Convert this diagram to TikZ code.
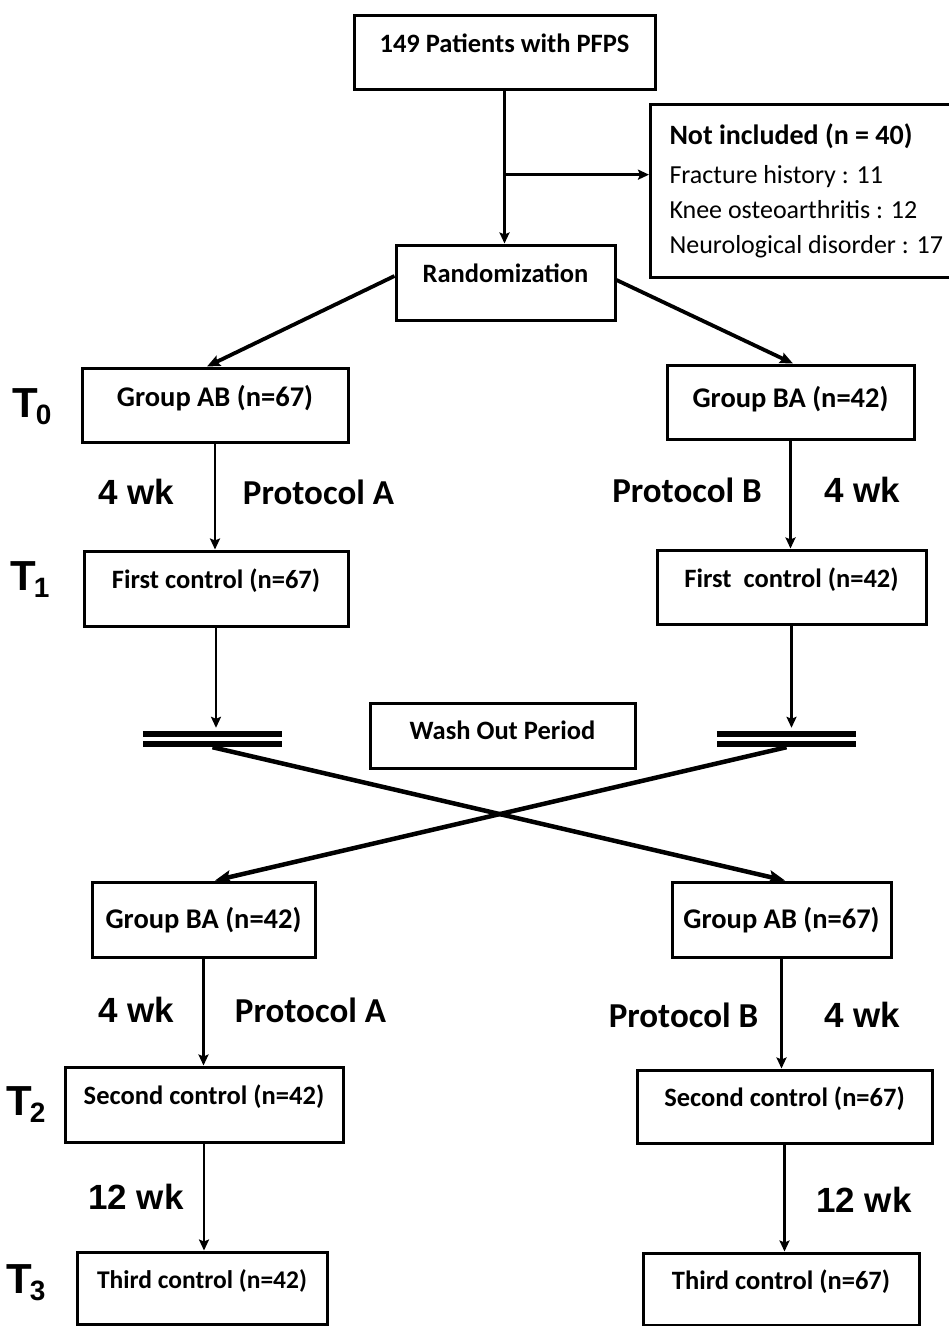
\documentclass[tikz,border=0pt]{standalone}
\usepackage{fontspec}
\setmainfont{Carlito}
\newfontfamily\labfont{Liberation Sans}
\usetikzlibrary{positioning, arrows.meta, calc}

% time point label, T with a lowered index
\newcommand{\tlab}[1]{T\kern-2pt\raisebox{-7pt}{\fontsize{28}{28}\selectfont #1}}

\begin{document}
\begin{tikzpicture}[x=1pt, y=-1pt, >={Stealth[length=11pt, width=10pt, inset=2pt]},
    box/.style={draw, line width=3pt, inner sep=0pt, text height=12pt, text depth=12pt,
        font=\bfseries\fontsize{26.5}{30}\selectfont},
    grp/.style={box, font=\bfseries\fontsize{28.5}{30}\selectfont},
    midgrp/.style={grp, text height=17pt, text depth=0pt},
    excl/.style={draw, line width=3pt, anchor=north west, text width=300pt, inner xsep=19pt,
        minimum height=173pt, align=left, font=\fontsize{26}{35}\selectfont},
    link/.style={->, line width=2.5pt},
    diag/.style={-{Stealth[length=13pt, width=11pt, inset=2pt]}, line width=3.8pt},
    cross/.style={-{Stealth[length=16pt, width=13pt, inset=3pt]}, line width=4.5pt},
    bar/.style={minimum width=139pt, minimum height=16pt, inner sep=0pt},
    dbl/.style={line width=5.5pt, double=white, double distance=4.5pt},
    wk/.style={font=\labfont\bfseries\fontsize{35}{35}\selectfont},
    proto/.style={font=\bfseries\fontsize{35}{35}\selectfont},
    tl/.style={anchor=base west, inner sep=0pt, font=\labfont\bfseries\fontsize{42}{42}\selectfont}]
    \useasboundingbox (0,0) rectangle (949,1326);
    \fill[white] (0,0) rectangle (949,1326);

    % enrolment
    \node[box, minimum width=301pt, minimum height=74pt] (pat) at (504.5,52) {149 Patients with PFPS};
    \node[box, minimum width=219pt, minimum height=75pt] (rand) at (505.5,282.5) {Randomization};
    \node[excl] (excl) at (649,103) {\spaceskip=0pt\xspaceskip=0pt
        {\fontsize{28}{35}\selectfont\bfseries Not included (n = 40)}\\[4pt]
        Fracture history : 11\\ Knee osteoarthritis : 12\\ Neurological disorder : 17};
    \coordinate (split) at ($(pat.south)!0.55!(rand.north)$);

    % first period
    \node[grp, text height=14pt, text depth=11pt, minimum width=266pt, minimum height=74pt] (gab) at (215,405) {Group AB (n=67)};
    \node[grp, text height=17pt, text depth=6pt, minimum width=247pt, minimum height=74pt] (gba) at (790.5,402) {Group BA (n=42)};
    \node[box, minimum width=264pt, minimum height=75pt] (fca) at (216,588.5) {First control (n=67)};
    \node[box, minimum width=269pt, minimum height=74pt] (fcb) at (791.5,587) {First\ \ control (n=42)};

    % wash out
    \node[bar] (barA) at (212.5,739) {};
    \node[bar] (barB) at (786.5,739) {};
    \node[box, text height=16pt, text depth=8pt, minimum width=265pt, minimum height=65pt] (wash) at (502.5,735.5) {Wash Out Period};

    % second period
    \node[midgrp, minimum width=223pt, minimum height=75pt] (gba2) at (203.5,919.5) {Group BA (n=42)};
    \node[midgrp, minimum width=219pt, minimum height=75pt] (gab2) at (781.5,919.5) {Group AB (n=67)};
    \node[box, minimum width=278pt, minimum height=75pt] (sca) at (204,1104.5) {Second control (n=42)};
    \node[box, minimum width=295pt, minimum height=73pt] (scb) at (784.5,1106.5) {Second control (n=67)};
    \node[box, font=\bfseries\fontsize{25.5}{30}\selectfont, minimum width=250pt, minimum height=72pt] (tca) at (202,1288) {Third control (n=42)};
    \node[box, minimum width=276pt, minimum height=72pt] (tcb) at (781,1289) {Third control (n=67)};

    % connectors
    \draw[link, line width=3pt] (pat.south) -- (pat.south |- rand.north);
    \draw[link, line width=3pt] (split) -- (split -| excl.west);
    \draw[diag] ([yshift=6.5pt]rand.west) -- ([xshift=-8pt]gab.north);
    \draw[diag] ([yshift=2.5pt]rand.east) -- ([xshift=2.5pt]gba.north);
    \draw[link] (gab.south) -- (gab.south |- fca.north);
    \draw[link] (gba.south) -- (gba.south |- fcb.north);
    \draw[link, shorten >=3pt] (fca.south) -- (fca.south |- barA.north);
    \draw[link, shorten >=3pt] (fcb.south) -- (fcb.south |- barB.north);
    \draw[dbl] (barA.west) -- (barA.east);
    \draw[dbl] (barB.west) -- (barB.east);
    \draw[cross] (barA.south) -- ([xshift=3.5pt]gab2.north);
    \draw[cross] (barB.south) -- ([xshift=11.5pt]gba2.north);
    \draw[link] (gba2.south) -- (gba2.south |- sca.north);
    \draw[link] (sca.south) -- (sca.south |- tca.north);
    \draw[link] (gab2.south) -- (gab2.south |- scb.north);
    \draw[link] (scb.south) -- (scb.south |- tcb.north);

    % durations and protocols
    \node[wk] (wkA) at (136,492) {4 wk};
    \node[proto] (prA) at (318.5,492) {Protocol A};
    \node[proto] (prB) at (687,490) {Protocol B};
    \node[wk] (wkB) at (862.5,490) {4 wk};
    \node[wk] (wkC) at (136,1010) {4 wk};
    \node[proto] (prC) at (310.5,1010) {Protocol A};
    \node[proto] (prD) at (683.5,1015) {Protocol B};
    \node[wk] (wkD) at (862.5,1015) {4 wk};
    \node[wk] (wkE) at (136,1197) {12 wk};
    \node[wk] (wkF) at (864,1200) {12 wk};

    % time points
    \node[tl] (t0) at (12,417) {\tlab{0}};
    \node[tl] (t1) at (10,590) {\tlab{1}};
    \node[tl] (t2) at (6,1115) {\tlab{2}};
    \node[tl] (t3) at (6,1293) {\tlab{3}};
\end{tikzpicture}
\end{document}
